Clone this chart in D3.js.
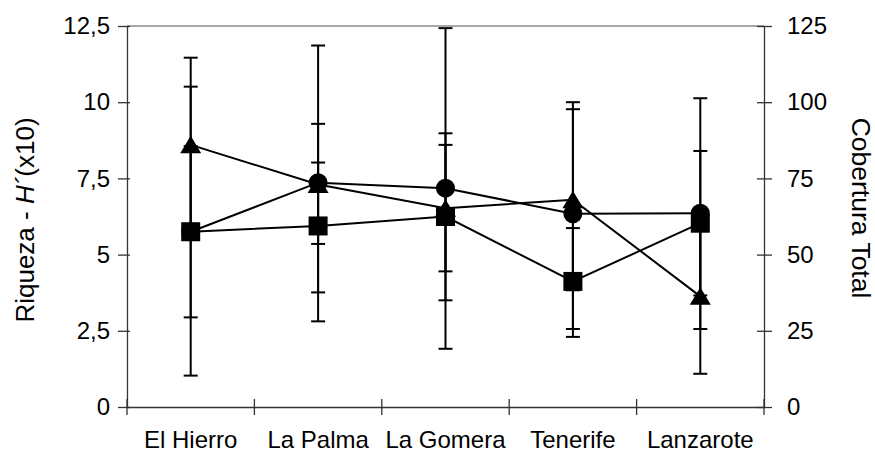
<!DOCTYPE html>
<html>
<head>
<meta charset="utf-8">
<script src="https://cdn.jsdelivr.net/npm/d3@7"></script>
<style>
  body { margin: 0; background: #fff; }
  svg text { font-family: "Liberation Sans", Arial, sans-serif; fill: #000; }
</style>
</head>
<body>
<div id="chart"></div>
<script>
const islands = ['El Hierro', 'La Palma', 'La Gomera', 'Tenerife', 'Lanzarote'];
const leftTicks = [0, 2.5, 5, 7.5, 10, 12.5];
const rightTicks = [0, 25, 50, 75, 100, 125];

// circles
const circleVals = [5.75, 7.36, 7.18, 6.34, 6.36];
const circleHi = [8.56, 11.86, 12.43, 10.0, 10.13];
const circleLo = [2.94, 2.81, 1.91, 2.56, 2.56];
// triangles
const triVals = [8.6, 7.3, 6.52, 6.8, 3.63];
const triHi = [11.46, 9.29, 8.6, 9.77, 6.17];
const triLo = [5.74, 5.35, 4.45, 3.83, 1.09];
// squares
const sqVals = [5.75, 5.94, 6.25, 4.12, 6.03];
const sqHi = [10.51, 8.02, 8.98, 5.87, 8.40];
const sqLo = [1.03, 3.76, 3.5, 2.30, 3.66];

const width = 875, height = 452;
const margin = { top: 26, right: 111, bottom: 45, left: 127 };
const innerWidth = width - margin.left - margin.right;
const innerHeight = height - margin.top - margin.bottom;

const svg = d3.select('#chart').append('svg').attr('width', width).attr('height', height);
const g = svg.append('g').attr('transform', `translate(${margin.left},${margin.top})`);

const x = d3.scaleBand().domain(islands).range([0, innerWidth]).padding(0);
const y = d3.scaleLinear().domain([0, 12.5]).range([innerHeight, 0]);
const y2 = d3.scaleLinear().domain([0, 125]).range([innerHeight, 0]);
const cx = (i) => x(islands[i]) + x.bandwidth() / 2;

// plot area top border
g.append('line').attr('x1', 0).attr('x2', innerWidth).attr('y1', 0).attr('y2', 0)
  .attr('stroke', '#8a8a8a').attr('stroke-width', 1.5);

// axes
const fmt = (d) => String(d).replace('.', ',');
const left = g.append('g').call(d3.axisLeft(y).tickValues(leftTicks).tickFormat(fmt).tickSizeInner(9).tickSizeOuter(0).tickPadding(8));
const right = g.append('g').attr('transform', `translate(${innerWidth},0)`)
  .call(d3.axisRight(y2).tickValues(rightTicks).tickSizeInner(8).tickSizeOuter(0).tickPadding(15));
const bottom = g.append('g').attr('transform', `translate(0,${innerHeight})`)
  .call(d3.axisBottom(x).tickSize(0).tickPadding(24));

[left, right, bottom].forEach((a) => {
  a.select('.domain').attr('stroke', '#333').attr('stroke-width', 1.3);
  a.selectAll('.tick line').attr('stroke', '#333').attr('stroke-width', 1.3);
  a.selectAll('.tick text').attr('font-size', 24).attr('font-family', '"Liberation Sans", Arial, sans-serif').attr('fill', '#000');
});
// ticks crossing the axis lines
left.selectAll('.tick line').attr('x2', -9).attr('x1', 3);
right.selectAll('.tick line').attr('x1', -7).attr('x2', 8);
const bounds = d3.range(islands.length + 1).map((i) => i * x.step());
g.append('g').selectAll('line').data(bounds).join('line')
  .attr('x1', (d) => d).attr('x2', (d) => d)
  .attr('y1', innerHeight - 8).attr('y2', innerHeight + 8)
  .attr('stroke', '#333').attr('stroke-width', 1.3);
bottom.selectAll('.tick text').attr('dy', '0.71em');

// axis titles
svg.append('text')
  .attr('transform', 'translate(25,220) rotate(-90)')
  .attr('text-anchor', 'middle').attr('dominant-baseline', 'central').attr('font-size', 26)
  .html('Riqueza - <tspan font-style="italic">H´</tspan>(x10)');
svg.append('text')
  .attr('transform', 'translate(861,208) rotate(90)')
  .attr('text-anchor', 'middle').attr('dominant-baseline', 'central').attr('font-size', 26.5)
  .text('Cobertura Total');

const series = [
  { vals: circleVals, hi: circleHi, lo: circleLo, shape: 'circle' },
  { vals: triVals, hi: triHi, lo: triLo, shape: 'triangle' },
  { vals: sqVals, hi: sqHi, lo: sqLo, shape: 'square' },
];

const line = d3.line().x((d, i) => cx(i)).y((d) => y(d));
const capW = 7;

series.forEach((s) => {
  const eb = g.append('g').attr('stroke', '#000').attr('stroke-width', 2);
  s.vals.forEach((v, i) => {
    eb.append('line').attr('x1', cx(i)).attr('x2', cx(i)).attr('y1', y(s.lo[i])).attr('y2', y(s.hi[i]));
    [s.hi[i], s.lo[i]].forEach((e) => {
      eb.append('line').attr('x1', cx(i) - capW).attr('x2', cx(i) + capW).attr('y1', y(e)).attr('y2', y(e));
    });
  });
});

series.forEach((s) => {
  g.append('path').datum(s.vals).attr('d', line)
    .attr('fill', 'none').attr('stroke', '#000').attr('stroke-width', 2);
});

series.forEach((s) => {
  const m = g.append('g').attr('fill', '#000');
  s.vals.forEach((v, i) => {
    const px = cx(i), py = y(v);
    if (s.shape === 'circle') {
      m.append('circle').attr('cx', px).attr('cy', py).attr('r', 9.5);
    } else if (s.shape === 'square') {
      m.append('rect').attr('x', px - 9.5).attr('y', py - 9.5).attr('width', 19).attr('height', 19);
    } else {
      m.append('path').attr('d', `M${px},${py - 9}L${px + 10.5},${py + 8.5}L${px - 10.5},${py + 8.5}Z`);
    }
  });
});
</script>
</body>
</html>
